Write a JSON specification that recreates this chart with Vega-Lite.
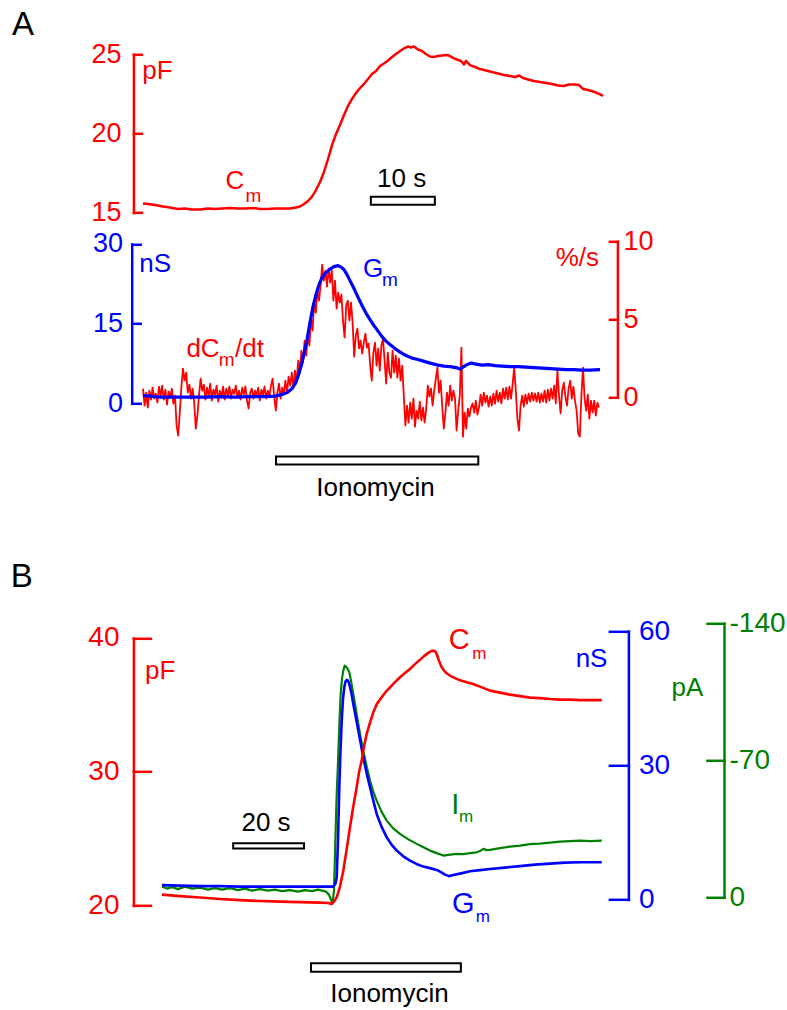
{
  "$schema": "https://vega.github.io/schema/vega-lite/v6.json",
  "description": "Ionomycin-evoked changes in membrane capacitance (Cm), its rate (dCm/dt), conductance (Gm) and current (Im).",
  "autosize": {"type": "none"},
  "padding": {"left": 133.4, "top": 54.3, "right": 653.6, "bottom": 955.7},
  "background": "white",
  "bounds": "flush",
  "spacing": 28,
  "config": {
    "view": {"stroke": null},
    "font": "Liberation Sans",
    "axis": {"grid": false, "labelFont": "Liberation Sans", "title": null, "domainCap": "square", "tickCap": "square", "labelOverlap": false}
  },
  "datasets": {
    "cmA": [{"t":0,"pF":15.58},{"t":0.78,"pF":15.55},{"t":1.88,"pF":15.49},{"t":3.13,"pF":15.39},{"t":4.22,"pF":15.33},{"t":5.47,"pF":15.23},{"t":6.56,"pF":15.27},{"t":7.66,"pF":15.2},{"t":8.91,"pF":15.2},{"t":10.16,"pF":15.27},{"t":11.25,"pF":15.23},{"t":12.34,"pF":15.27},{"t":13.59,"pF":15.3},{"t":14.84,"pF":15.27},{"t":15.94,"pF":15.27},{"t":17.19,"pF":15.3},{"t":18.28,"pF":15.23},{"t":19.53,"pF":15.23},{"t":20.63,"pF":15.27},{"t":21.88,"pF":15.27},{"t":22.97,"pF":15.27},{"t":23.91,"pF":15.33},{"t":24.53,"pF":15.39},{"t":25.16,"pF":15.55},{"t":25.78,"pF":15.74},{"t":26.41,"pF":16.02},{"t":27.03,"pF":16.43},{"t":27.66,"pF":16.94},{"t":28.28,"pF":17.57},{"t":28.91,"pF":18.39},{"t":29.53,"pF":19.27},{"t":30.16,"pF":19.97},{"t":30.78,"pF":20.54},{"t":31.41,"pF":21.17},{"t":32.03,"pF":21.74},{"t":32.66,"pF":22.18},{"t":33.28,"pF":22.56},{"t":33.91,"pF":22.87},{"t":34.53,"pF":23.13},{"t":35.16,"pF":23.44},{"t":35.78,"pF":23.76},{"t":36.41,"pF":23.95},{"t":37.03,"pF":24.26},{"t":37.66,"pF":24.42},{"t":38.28,"pF":24.61},{"t":38.91,"pF":24.83},{"t":39.53,"pF":25.02},{"t":40.16,"pF":25.21},{"t":40.78,"pF":25.37},{"t":41.41,"pF":25.49},{"t":41.88,"pF":25.43},{"t":42.34,"pF":25.49},{"t":42.97,"pF":25.3},{"t":43.59,"pF":25.21},{"t":44.22,"pF":25.02},{"t":44.84,"pF":24.86},{"t":45.47,"pF":24.83},{"t":46.09,"pF":24.89},{"t":46.72,"pF":24.92},{"t":47.34,"pF":24.96},{"t":47.81,"pF":24.92},{"t":48.44,"pF":24.77},{"t":49.06,"pF":24.67},{"t":49.69,"pF":24.58},{"t":50.16,"pF":24.36},{"t":50.47,"pF":24.58},{"t":51.09,"pF":24.32},{"t":51.88,"pF":24.2},{"t":52.66,"pF":24.07},{"t":53.59,"pF":23.98},{"t":54.53,"pF":23.88},{"t":55.47,"pF":23.79},{"t":56.41,"pF":23.69},{"t":57.34,"pF":23.63},{"t":58.13,"pF":23.57},{"t":58.75,"pF":23.66},{"t":59.38,"pF":23.5},{"t":60.16,"pF":23.41},{"t":61.09,"pF":23.31},{"t":62.03,"pF":23.25},{"t":62.97,"pF":23.19},{"t":63.91,"pF":23.13},{"t":64.84,"pF":23.03},{"t":65.78,"pF":23.0},{"t":66.56,"pF":23.09},{"t":67.34,"pF":23.09},{"t":68.13,"pF":23.06},{"t":68.75,"pF":22.81},{"t":69.53,"pF":22.75},{"t":70.31,"pF":22.65},{"t":71.09,"pF":22.53},{"t":71.88,"pF":22.37}],
    "gmA": [{"t":0,"nS":1.45},{"t":1.09,"nS":1.36},{"t":2.66,"nS":1.17},{"t":5.0,"nS":1.17},{"t":7.34,"nS":1.17},{"t":9.69,"nS":1.17},{"t":12.03,"nS":1.26},{"t":14.38,"nS":1.17},{"t":16.72,"nS":1.26},{"t":19.06,"nS":1.26},{"t":20.63,"nS":1.36},{"t":21.72,"nS":1.64},{"t":22.5,"nS":2.01},{"t":23.13,"nS":2.58},{"t":23.75,"nS":3.61},{"t":24.22,"nS":5.03},{"t":24.69,"nS":6.91},{"t":25.16,"nS":9.35},{"t":25.63,"nS":11.99},{"t":26.09,"nS":15.19},{"t":26.56,"nS":18.2},{"t":27.03,"nS":20.46},{"t":27.5,"nS":22.34},{"t":27.97,"nS":23.66},{"t":28.59,"nS":24.6},{"t":29.22,"nS":25.26},{"t":29.84,"nS":25.73},{"t":30.47,"nS":25.92},{"t":30.94,"nS":25.64},{"t":31.41,"nS":25.16},{"t":31.88,"nS":24.22},{"t":32.34,"nS":23.09},{"t":32.97,"nS":21.59},{"t":33.59,"nS":19.99},{"t":34.22,"nS":18.39},{"t":34.84,"nS":16.98},{"t":35.47,"nS":15.75},{"t":36.09,"nS":14.62},{"t":36.72,"nS":13.59},{"t":37.34,"nS":12.55},{"t":37.97,"nS":11.71},{"t":38.59,"nS":11.05},{"t":39.38,"nS":10.3},{"t":40.16,"nS":9.64},{"t":41.09,"nS":8.98},{"t":42.03,"nS":8.51},{"t":42.97,"nS":8.23},{"t":44.06,"nS":7.85},{"t":45.16,"nS":7.47},{"t":46.09,"nS":7.19},{"t":47.03,"nS":7.0},{"t":47.97,"nS":6.91},{"t":48.91,"nS":6.72},{"t":49.53,"nS":6.44},{"t":50.0,"nS":6.81},{"t":50.63,"nS":7.28},{"t":51.25,"nS":7.57},{"t":52.03,"nS":7.38},{"t":52.97,"nS":7.19},{"t":53.91,"nS":7.28},{"t":55.0,"nS":7.1},{"t":56.09,"nS":7.0},{"t":57.34,"nS":6.91},{"t":58.59,"nS":6.91},{"t":59.84,"nS":6.81},{"t":61.09,"nS":6.72},{"t":62.34,"nS":6.63},{"t":63.59,"nS":6.53},{"t":64.84,"nS":6.44},{"t":66.09,"nS":6.34},{"t":67.34,"nS":6.34},{"t":68.59,"nS":6.25},{"t":69.84,"nS":6.25},{"t":71.41,"nS":6.34}],
    "dcdtA": [{"t":0,"r":0.56},{"t":0.25,"r":-0.53},{"t":0.5,"r":0.3},{"t":0.75,"r":-0.66},{"t":1,"r":0.43},{"t":1.25,"r":-0.15},{"t":1.5,"r":0.62},{"t":1.75,"r":-0.08},{"t":2,"r":0.24},{"t":2.25,"r":-0.34},{"t":2.5,"r":0.69},{"t":2.75,"r":0.04},{"t":3,"r":0.75},{"t":3.25,"r":-0.15},{"t":3.5,"r":0.49},{"t":3.75,"r":-0.47},{"t":4,"r":0.37},{"t":4.25,"r":-0.02},{"t":4.5,"r":0.56},{"t":4.75,"r":-0.4},{"t":5,"r":0.11},{"t":5.25,"r":-1.81},{"t":5.5,"r":-2.46},{"t":5.75,"r":-0.98},{"t":6,"r":0.69},{"t":6.25,"r":1.84},{"t":6.5,"r":1.07},{"t":6.75,"r":1.58},{"t":7,"r":0.3},{"t":7.25,"r":0.81},{"t":7.5,"r":-0.08},{"t":7.75,"r":0.56},{"t":8,"r":-0.34},{"t":8.25,"r":-2.01},{"t":8.5,"r":-1.17},{"t":8.75,"r":0.11},{"t":9,"r":1.2},{"t":9.25,"r":0.43},{"t":9.5,"r":0.81},{"t":9.75,"r":-0.15},{"t":10,"r":0.62},{"t":10.25,"r":0.04},{"t":10.5,"r":0.88},{"t":10.75,"r":-0.21},{"t":11,"r":0.49},{"t":11.25,"r":0.17},{"t":11.5,"r":0.75},{"t":11.75,"r":-0.28},{"t":12,"r":0.43},{"t":12.25,"r":-0.02},{"t":12.5,"r":0.69},{"t":12.75,"r":-0.15},{"t":13,"r":0.56},{"t":13.25,"r":0.11},{"t":13.5,"r":0.69},{"t":13.75,"r":-0.08},{"t":14,"r":0.49},{"t":14.25,"r":0.24},{"t":14.5,"r":0.75},{"t":14.75,"r":-0.02},{"t":15,"r":0.43},{"t":15.25,"r":-0.15},{"t":15.5,"r":0.62},{"t":15.75,"r":0.17},{"t":16,"r":0.69},{"t":16.25,"r":-0.21},{"t":16.5,"r":-0.72},{"t":16.75,"r":0.3},{"t":17,"r":0.56},{"t":17.25,"r":-0.08},{"t":17.5,"r":0.43},{"t":17.75,"r":0.11},{"t":18,"r":0.62},{"t":18.25,"r":-0.21},{"t":18.5,"r":0.49},{"t":18.75,"r":0.17},{"t":19,"r":0.69},{"t":19.25,"r":-0.08},{"t":19.5,"r":0.43},{"t":19.75,"r":0.04},{"t":20,"r":0.75},{"t":20.25,"r":1.2},{"t":20.5,"r":0.04},{"t":20.75,"r":-0.85},{"t":21,"r":0.3},{"t":21.25,"r":0.88},{"t":21.5,"r":-0.08},{"t":21.75,"r":0.62},{"t":22,"r":0.17},{"t":22.25,"r":1.07},{"t":22.5,"r":0.3},{"t":22.75,"r":1.33},{"t":23,"r":0.75},{"t":23.25,"r":1.58},{"t":23.5,"r":0.56},{"t":23.75,"r":1.71},{"t":24,"r":0.94},{"t":24.25,"r":2.35},{"t":24.5,"r":1.58},{"t":24.75,"r":2.99},{"t":25,"r":2.22},{"t":25.25,"r":3.63},{"t":25.5,"r":2.67},{"t":25.75,"r":3.96},{"t":26,"r":3.31},{"t":26.25,"r":5.04},{"t":26.5,"r":4.28},{"t":26.75,"r":6.07},{"t":27,"r":5.43},{"t":27.25,"r":6.84},{"t":27.5,"r":6.2},{"t":27.75,"r":7.16},{"t":28,"r":8.51},{"t":28.25,"r":7.48},{"t":28.5,"r":8.12},{"t":28.75,"r":7.1},{"t":29,"r":8.25},{"t":29.25,"r":7.35},{"t":29.5,"r":8.12},{"t":29.75,"r":6.2},{"t":30,"r":7.48},{"t":30.25,"r":5.69},{"t":30.5,"r":6.71},{"t":30.75,"r":6.07},{"t":31,"r":6.58},{"t":31.25,"r":4.92},{"t":31.5,"r":3.83},{"t":31.75,"r":5.88},{"t":32,"r":6.2},{"t":32.25,"r":4.92},{"t":32.5,"r":6.07},{"t":32.75,"r":4.79},{"t":33,"r":2.61},{"t":33.25,"r":3.96},{"t":33.5,"r":4.4},{"t":33.75,"r":3.12},{"t":34,"r":3.63},{"t":34.25,"r":2.8},{"t":34.5,"r":3.51},{"t":34.75,"r":4.08},{"t":35,"r":3.19},{"t":35.25,"r":3.44},{"t":35.5,"r":2.03},{"t":35.75,"r":1.07},{"t":36,"r":2.87},{"t":36.25,"r":3.51},{"t":36.5,"r":2.03},{"t":36.75,"r":3.12},{"t":37,"r":1.71},{"t":37.25,"r":3.31},{"t":37.5,"r":3.76},{"t":37.75,"r":2.35},{"t":38,"r":0.88},{"t":38.25,"r":2.87},{"t":38.5,"r":1.58},{"t":38.75,"r":1.26},{"t":39,"r":2.99},{"t":39.25,"r":1.58},{"t":39.5,"r":2.67},{"t":39.75,"r":1.26},{"t":40,"r":2.48},{"t":40.25,"r":1.07},{"t":40.5,"r":2.03},{"t":40.75,"r":0.11},{"t":41,"r":-1.81},{"t":41.25,"r":-0.53},{"t":41.5,"r":-1.62},{"t":41.75,"r":-0.34},{"t":42,"r":-1.37},{"t":42.25,"r":-0.08},{"t":42.5,"r":-1.88},{"t":42.75,"r":-0.85},{"t":43,"r":-1.37},{"t":43.25,"r":-0.28},{"t":43.5,"r":-1.49},{"t":43.75,"r":-0.66},{"t":44,"r":-1.62},{"t":44.25,"r":-0.72},{"t":44.5,"r":0.75},{"t":44.75,"r":0.04},{"t":45,"r":0.56},{"t":45.25,"r":-0.53},{"t":45.5,"r":0.43},{"t":45.75,"r":1.2},{"t":46,"r":1.9},{"t":46.25,"r":0.3},{"t":46.5,"r":1.07},{"t":46.75,"r":-0.53},{"t":47,"r":-2.01},{"t":47.25,"r":-0.98},{"t":47.5,"r":0.3},{"t":47.75,"r":-0.53},{"t":48,"r":0.75},{"t":48.25,"r":-0.21},{"t":48.5,"r":0.43},{"t":48.75,"r":-0.08},{"t":49,"r":-2.13},{"t":49.25,"r":-0.85},{"t":49.5,"r":0.11},{"t":49.75,"r":3.19},{"t":50,"r":-2.52},{"t":50.25,"r":-0.98},{"t":50.5,"r":-2.01},{"t":50.75,"r":-0.72},{"t":51,"r":-1.24},{"t":51.25,"r":-0.66},{"t":51.5,"r":-0.4},{"t":51.75,"r":-0.98},{"t":52,"r":-0.21},{"t":52.25,"r":-1.11},{"t":52.5,"r":-0.66},{"t":52.75,"r":0.17},{"t":53,"r":-0.53},{"t":53.25,"r":0.3},{"t":53.5,"r":-0.34},{"t":53.75,"r":0.11},{"t":54,"r":-0.6},{"t":54.25,"r":0.04},{"t":54.5,"r":-0.53},{"t":54.75,"r":0.24},{"t":55,"r":-0.4},{"t":55.25,"r":0.43},{"t":55.5,"r":-0.28},{"t":55.75,"r":0.3},{"t":56,"r":-0.4},{"t":56.25,"r":0.56},{"t":56.5,"r":-0.08},{"t":56.75,"r":0.62},{"t":57,"r":-0.15},{"t":57.25,"r":0.69},{"t":57.5,"r":-0.08},{"t":57.75,"r":0.81},{"t":58,"r":1.9},{"t":58.25,"r":0.43},{"t":58.5,"r":-1.37},{"t":58.75,"r":-2.13},{"t":59,"r":-0.53},{"t":59.25,"r":0.11},{"t":59.5,"r":-0.6},{"t":59.75,"r":0.17},{"t":60,"r":-0.4},{"t":60.25,"r":0.24},{"t":60.5,"r":-0.28},{"t":60.75,"r":0.3},{"t":61,"r":-0.21},{"t":61.25,"r":0.24},{"t":61.5,"r":-0.28},{"t":61.75,"r":0.3},{"t":62,"r":-0.34},{"t":62.25,"r":0.24},{"t":62.5,"r":-0.28},{"t":62.75,"r":0.43},{"t":63,"r":-0.34},{"t":63.25,"r":0.49},{"t":63.5,"r":-0.21},{"t":63.75,"r":0.56},{"t":64,"r":-0.08},{"t":64.25,"r":0.75},{"t":64.5,"r":-0.4},{"t":64.75,"r":1.71},{"t":65,"r":0.11},{"t":65.25,"r":-1.04},{"t":65.5,"r":0.43},{"t":65.75,"r":0.94},{"t":66,"r":0.04},{"t":66.25,"r":-0.53},{"t":66.5,"r":0.56},{"t":66.75,"r":1.07},{"t":67,"r":-0.08},{"t":67.25,"r":0.69},{"t":67.5,"r":-0.21},{"t":67.75,"r":-0.85},{"t":68,"r":-2.33},{"t":68.25,"r":-2.52},{"t":68.5,"r":0.11},{"t":68.75,"r":1.9},{"t":69,"r":-0.08},{"t":69.25,"r":-0.85},{"t":69.5,"r":0.17},{"t":69.75,"r":-1.37},{"t":70,"r":-0.21},{"t":70.25,"r":-0.98},{"t":70.5,"r":-0.21},{"t":70.75,"r":-1.17},{"t":71,"r":-0.34},{"t":71.25,"r":-0.66}],
    "cmB": [{"t":0,"pF":20.82},{"t":5.08,"pF":20.71},{"t":10.73,"pF":20.6},{"t":16.38,"pF":20.49},{"t":22.03,"pF":20.41},{"t":27.68,"pF":20.34},{"t":33.32,"pF":20.3},{"t":38.97,"pF":20.26},{"t":44.62,"pF":20.22},{"t":46.88,"pF":20.19},{"t":47.92,"pF":20.13},{"t":48.57,"pF":20.3},{"t":49.34,"pF":20.62},{"t":50.27,"pF":21.42},{"t":51.2,"pF":22.61},{"t":52.1,"pF":24.11},{"t":53.09,"pF":25.85},{"t":54.02,"pF":27.4},{"t":54.98,"pF":28.84},{"t":55.63,"pF":29.94},{"t":56.4,"pF":30.83},{"t":57.05,"pF":31.88},{"t":57.81,"pF":32.83},{"t":58.74,"pF":33.67},{"t":59.67,"pF":34.44},{"t":60.72,"pF":35.09},{"t":62.05,"pF":35.56},{"t":63.26,"pF":35.99},{"t":64.39,"pF":36.31},{"t":65.8,"pF":36.7},{"t":67.21,"pF":37.06},{"t":68.62,"pF":37.37},{"t":70.04,"pF":37.68},{"t":71.45,"pF":38.04},{"t":72.86,"pF":38.36},{"t":73.99,"pF":38.64},{"t":75.2,"pF":38.88},{"t":75.97,"pF":39.01},{"t":76.62,"pF":39.05},{"t":77.1,"pF":39.01},{"t":77.58,"pF":38.8},{"t":78.22,"pF":38.3},{"t":78.99,"pF":37.8},{"t":79.64,"pF":37.56},{"t":80.4,"pF":37.36},{"t":81.62,"pF":37.13},{"t":83.22,"pF":36.94},{"t":84.44,"pF":36.81},{"t":86.05,"pF":36.68},{"t":87.83,"pF":36.55},{"t":89.8,"pF":36.36},{"t":91.22,"pF":36.21},{"t":92.63,"pF":36.06},{"t":95.45,"pF":35.91},{"t":98.28,"pF":35.76},{"t":101.1,"pF":35.65},{"t":103.9,"pF":35.54},{"t":106.7,"pF":35.5},{"t":109.6,"pF":35.43},{"t":112.4,"pF":35.39},{"t":115.2,"pF":35.39},{"t":118.1,"pF":35.35},{"t":120.9,"pF":35.35},{"t":124.2,"pF":35.35}],
    "gmB": [{"t":0,"nS":3.24},{"t":5.08,"nS":3.13},{"t":10.73,"nS":3.02},{"t":16.38,"nS":3.02},{"t":22.03,"nS":2.91},{"t":27.68,"nS":2.91},{"t":33.32,"nS":2.91},{"t":38.97,"nS":2.91},{"t":44.62,"nS":2.91},{"t":48.38,"nS":2.91},{"t":49.0,"nS":3.58},{"t":49.34,"nS":4.99},{"t":49.7,"nS":13.19},{"t":50.07,"nS":25.11},{"t":50.41,"nS":33.32},{"t":50.75,"nS":40.03},{"t":51.12,"nS":44.95},{"t":51.48,"nS":47.47},{"t":51.82,"nS":48.75},{"t":52.16,"nS":49.13},{"t":52.53,"nS":48.97},{"t":52.89,"nS":48.23},{"t":53.46,"nS":46.29},{"t":54.02,"nS":43.76},{"t":54.7,"nS":40.92},{"t":55.44,"nS":37.79},{"t":56.12,"nS":34.88},{"t":56.85,"nS":31.82},{"t":57.75,"nS":28.4},{"t":58.74,"nS":25.11},{"t":59.67,"nS":22.14},{"t":60.63,"nS":19.16},{"t":61.99,"nS":16.32},{"t":63.46,"nS":13.93},{"t":64.82,"nS":12.3},{"t":66.28,"nS":10.96},{"t":68.06,"nS":9.73},{"t":70.04,"nS":8.72},{"t":71.87,"nS":7.98},{"t":73.79,"nS":7.38},{"t":75.68,"nS":7.04},{"t":77.58,"nS":6.64},{"t":78.79,"nS":6.15},{"t":79.92,"nS":5.59},{"t":81.05,"nS":5.25},{"t":82.26,"nS":5.48},{"t":84.16,"nS":5.81},{"t":86.98,"nS":6.33},{"t":89.8,"nS":6.6},{"t":92.63,"nS":6.86},{"t":96.86,"nS":7.16},{"t":101.1,"nS":7.49},{"t":105.3,"nS":7.83},{"t":109.6,"nS":8.05},{"t":113.8,"nS":8.27},{"t":118.1,"nS":8.34},{"t":124.2,"nS":8.34}],
    "imB": [{"t":0,"pA":-5.47},{"t":1.41,"pA":-4.45},{"t":2.82,"pA":-5.21},{"t":4.52,"pA":-4.19},{"t":6.5,"pA":-5.47},{"t":8.47,"pA":-4.45},{"t":10.73,"pA":-4.96},{"t":12.99,"pA":-3.93},{"t":14.97,"pA":-4.7},{"t":16.94,"pA":-3.93},{"t":19.2,"pA":-4.7},{"t":21.46,"pA":-3.68},{"t":23.44,"pA":-4.45},{"t":25.42,"pA":-3.42},{"t":27.68,"pA":-4.19},{"t":29.93,"pA":-3.42},{"t":31.91,"pA":-3.93},{"t":33.89,"pA":-3.17},{"t":36.15,"pA":-3.68},{"t":38.41,"pA":-2.91},{"t":40.38,"pA":-3.68},{"t":42.36,"pA":-3.17},{"t":44.05,"pA":-3.93},{"t":45.18,"pA":-3.42},{"t":46.31,"pA":-2.91},{"t":47.16,"pA":-1.38},{"t":47.73,"pA":1.18},{"t":48.15,"pA":3.22},{"t":48.57,"pA":-3.42},{"t":48.86,"pA":-22.18},{"t":49.28,"pA":-49.41},{"t":49.79,"pA":-73.27},{"t":50.13,"pA":-90.29},{"t":50.47,"pA":-103.93},{"t":50.83,"pA":-111.75},{"t":51.2,"pA":-115.83},{"t":51.6,"pA":-118.39},{"t":51.96,"pA":-117.88},{"t":52.39,"pA":-116.86},{"t":52.89,"pA":-114.97},{"t":53.37,"pA":-110.73},{"t":54.02,"pA":-103.93},{"t":54.73,"pA":-96.42},{"t":55.44,"pA":-88.6},{"t":56.12,"pA":-81.6},{"t":56.85,"pA":-74.96},{"t":57.75,"pA":-67.29},{"t":58.74,"pA":-59.63},{"t":59.67,"pA":-54.01},{"t":60.63,"pA":-49.41},{"t":61.99,"pA":-43.79},{"t":63.46,"pA":-39.19},{"t":65.24,"pA":-35.36},{"t":67.21,"pA":-32.39},{"t":69.47,"pA":-29.74},{"t":71.93,"pA":-27.29},{"t":73.71,"pA":-25.65},{"t":75.68,"pA":-23.86},{"t":77.58,"pA":-22.58},{"t":79.45,"pA":-21.31},{"t":81.34,"pA":-21.82},{"t":83.22,"pA":-22.18},{"t":85.0,"pA":-22.07},{"t":86.98,"pA":-22.58},{"t":88.87,"pA":-22.99},{"t":89.8,"pA":-23.61},{"t":90.74,"pA":-24.73},{"t":91.78,"pA":-24.12},{"t":92.63,"pA":-24.22},{"t":95.45,"pA":-25.14},{"t":98.28,"pA":-25.91},{"t":101.1,"pA":-26.42},{"t":103.9,"pA":-27.18},{"t":106.7,"pA":-27.44},{"t":109.6,"pA":-27.95},{"t":112.4,"pA":-28.46},{"t":115.2,"pA":-28.72},{"t":118.1,"pA":-28.97},{"t":120.9,"pA":-28.72},{"t":124.2,"pA":-28.97}]
  },
  "vconcat": [
    {
      "width": 484,
      "height": 158.4,
      "encoding": {
        "x": {"field": "t", "type": "quantitative", "scale": {"domain": [-1.5, 74.125], "nice": false, "zero": false}, "axis": null},
        "y": {"field": "pF", "type": "quantitative", "scale": {"domain": [15, 25], "nice": false, "zero": false},
              "axis": {"orient": "left", "values": [15, 20, 25], "domainColor": "#ff0000", "domainWidth": 2.5, "tickColor": "#ff0000", "tickWidth": 2.5, "tickSize": -8, "labelPadding": 20.4, "labelColor": "#ff0000", "labelFontSize": 27}}
      },
      "layer": [
        {"data": {"name": "cmA"}, "mark": {"type": "line", "color": "#ff0000", "strokeWidth": 2.5, "strokeJoin": "round"}},
        {"data": {"values": [{"t": 35.6, "t2": 45.6, "pF": 15.5, "pF2": 16.0}]},
         "mark": {"type": "rect", "fill": "white", "stroke": "black", "strokeWidth": 2},
         "encoding": {"x2": {"field": "t2"}, "y2": {"field": "pF2"}}},
        {"data": {"values": [{"label": "10 s", "t": 40.4, "pF": 16.64}]},
         "mark": {"type": "text", "font": "Liberation Sans", "fontSize": 26, "align": "center", "baseline": "alphabetic", "color": "black"},
         "encoding": {"text": {"field": "label"}}},
        {"data": {"values": [{"label": "A", "t": -20.47, "pF": 26.22}]},
         "mark": {"type": "text", "font": "Liberation Sans", "fontSize": 33, "align": "left", "baseline": "alphabetic", "color": "black"},
         "encoding": {"text": {"field": "label"}}},
        {"data": {"values": [{"label": "pF", "t": -0.13, "pF": 23.44}, {"label": "C", "t": 12.88, "pF": 16.48}]},
         "mark": {"type": "text", "font": "Liberation Sans", "fontSize": 26, "align": "left", "baseline": "alphabetic", "color": "#ff0000"},
         "encoding": {"text": {"field": "label"}}},
        {"data": {"values": [{"label": "m", "t": 16.0, "pF": 15.69}]},
         "mark": {"type": "text", "font": "Liberation Sans", "fontSize": 19, "align": "left", "baseline": "alphabetic", "color": "#ff0000"},
         "encoding": {"text": {"field": "label"}}}
      ]
    },
    {
      "width": 484,
      "height": 354,
      "resolve": {"scale": {"y": "independent"}},
      "encoding": {
        "x": {"field": "t", "type": "quantitative", "scale": {"domain": [-1.5, 74.125], "nice": false, "zero": false}, "axis": null}
      },
      "layer": [
        {
          "encoding": {
            "y": {"field": "r", "type": "quantitative", "scale": {"domain": [0, 10], "range": [156, 0], "nice": false, "zero": false},
                  "axis": {"orient": "right", "values": [0, 5, 10], "domainColor": "#ff0000", "domainWidth": 2.5, "tickColor": "#ff0000", "tickWidth": 2.5, "tickSize": -8, "labelPadding": 13.5, "labelColor": "#ff0000", "labelFontSize": 27}}
          },
          "layer": [
            {"data": {"name": "dcdtA"}, "mark": {"type": "line", "color": "#ff0000", "strokeWidth": 1.8, "strokeJoin": "round"}},
            {"data": {"values": [{"label": "%/s", "t": 71.25, "r": 8.4}]},
             "mark": {"type": "text", "font": "Liberation Sans", "fontSize": 26, "align": "right", "baseline": "alphabetic", "color": "#ff0000"},
             "encoding": {"text": {"field": "label"}}}
          ]
        },
        {
          "encoding": {
            "y": {"field": "nS", "type": "quantitative", "scale": {"domain": [0, 30], "range": [162, 2.6], "nice": false, "zero": false},
                  "axis": {"orient": "left", "offset": 1.7, "values": [0, 15, 30], "domainColor": "#0000ff", "domainWidth": 2.5, "tickColor": "#0000ff", "tickWidth": 2.5, "tickSize": -8.5, "labelPadding": 17.7, "labelColor": "#0000ff", "labelFontSize": 27}}
          },
          "layer": [
            {"data": {"name": "gmA"}, "mark": {"type": "line", "color": "#0000ff", "strokeWidth": 3.2, "strokeJoin": "round"}},
            {"data": {"values": [{"label": "nS", "t": -0.59, "nS": 24.66}, {"label": "G", "t": 34.38, "nS": 23.85}]},
             "mark": {"type": "text", "font": "Liberation Sans", "fontSize": 26, "align": "left", "baseline": "alphabetic", "color": "#0000ff"},
             "encoding": {"text": {"field": "label"}}},
            {"data": {"values": [{"label": "m", "t": 37.34, "nS": 22.15}]},
             "mark": {"type": "text", "font": "Liberation Sans", "fontSize": 19, "align": "left", "baseline": "alphabetic", "color": "#0000ff"},
             "encoding": {"text": {"field": "label"}}},
            {"data": {"values": [{"label": "dC", "t": 6.78, "nS": 8.66}, {"label": "/dt", "t": 14.38, "nS": 8.66}]},
             "mark": {"type": "text", "font": "Liberation Sans", "fontSize": 26, "align": "left", "baseline": "alphabetic", "color": "#ff0000"},
             "encoding": {"text": {"field": "label"}}},
            {"data": {"values": [{"label": "m", "t": 11.83, "nS": 7.1}]},
             "mark": {"type": "text", "font": "Liberation Sans", "fontSize": 19, "align": "left", "baseline": "alphabetic", "color": "#ff0000"},
             "encoding": {"text": {"field": "label"}}},
            {"data": {"values": [{"t": 20.78, "t2": 52.39, "nS": -10.03, "nS2": -11.54}]},
             "mark": {"type": "rect", "fill": "white", "stroke": "black", "strokeWidth": 2},
             "encoding": {"x2": {"field": "t2"}, "y2": {"field": "nS2"}}},
            {"data": {"values": [{"label": "Ionomycin", "t": 36.33, "nS": -17.37}]},
             "mark": {"type": "text", "font": "Liberation Sans", "fontSize": 26, "align": "center", "baseline": "alphabetic", "color": "black"},
             "encoding": {"text": {"field": "label"}}}
          ]
        }
      ]
    },
    {
      "width": 495,
      "height": 282.3,
      "resolve": {"scale": {"y": "independent"}},
      "encoding": {
        "x": {"field": "t", "type": "quantitative", "scale": {"domain": [-8.08, 131.72], "nice": false, "zero": false}, "axis": null}
      },
      "layer": [
        {
          "encoding": {
            "y": {"field": "pA", "type": "quantitative", "scale": {"domain": [0, -140], "range": [274, 0], "nice": false, "zero": false},
                  "axis": {"orient": "right", "offset": 95.6, "values": [0, -70, -140], "labelExpr": "toString(datum.value)", "domainColor": "#008000", "domainWidth": 2.5, "tickColor": "#008000", "tickWidth": 2.5, "tickSize": -17, "labelPadding": 22, "labelColor": "#008000", "labelFontSize": 28}}
          },
          "layer": [
            {"data": {"name": "imB"}, "mark": {"type": "line", "color": "#008000", "strokeWidth": 2.2, "strokeJoin": "round"}},
            {"data": {"values": [{"label": "pA", "t": 143.9, "pA": -103.06}]},
             "mark": {"type": "text", "font": "Liberation Sans", "fontSize": 26, "align": "left", "baseline": "alphabetic", "color": "#008000"},
             "encoding": {"text": {"field": "label"}}},
            {"data": {"values": [{"label": "I", "t": 81.7, "pA": -42.61}]},
             "mark": {"type": "text", "font": "Liberation Sans", "fontSize": 29, "align": "left", "baseline": "alphabetic", "color": "#008000"},
             "encoding": {"text": {"field": "label"}}},
            {"data": {"values": [{"label": "m", "t": 83.87, "pA": -38.32}]},
             "mark": {"type": "text", "font": "Liberation Sans", "fontSize": 17, "align": "left", "baseline": "alphabetic", "color": "#008000"},
             "encoding": {"text": {"field": "label"}}}
          ]
        },
        {
          "encoding": {
            "y": {"field": "nS", "type": "quantitative", "scale": {"domain": [0, 60], "range": [276.3, 8], "nice": false, "zero": false},
                  "axis": {"orient": "right", "values": [0, 30, 60], "domainColor": "#0000ff", "domainWidth": 2.5, "tickColor": "#0000ff", "tickWidth": 2.5, "tickSize": -19, "labelPadding": 29, "labelColor": "#0000ff", "labelFontSize": 28}}
          },
          "layer": [
            {"data": {"name": "gmB"}, "mark": {"type": "line", "color": "#0000ff", "strokeWidth": 2.6, "strokeJoin": "round"}},
            {"data": {"values": [{"label": "nS", "t": 125.8, "nS": 51.95}]},
             "mark": {"type": "text", "font": "Liberation Sans", "fontSize": 26, "align": "right", "baseline": "alphabetic", "color": "#0000ff"},
             "encoding": {"text": {"field": "label"}}},
            {"data": {"values": [{"label": "G", "t": 81.9, "nS": -2.91}]},
             "mark": {"type": "text", "font": "Liberation Sans", "fontSize": 29, "align": "left", "baseline": "alphabetic", "color": "#0000ff"},
             "encoding": {"text": {"field": "label"}}},
            {"data": {"values": [{"label": "m", "t": 88.6, "nS": -4.92}]},
             "mark": {"type": "text", "font": "Liberation Sans", "fontSize": 17, "align": "left", "baseline": "alphabetic", "color": "#0000ff"},
             "encoding": {"text": {"field": "label"}}}
          ]
        },
        {
          "encoding": {
            "y": {"field": "pF", "type": "quantitative", "scale": {"domain": [20, 40], "range": [282.3, 14.6], "nice": false, "zero": false},
                  "axis": {"orient": "left", "values": [20, 30, 40], "domainColor": "#ff0000", "domainWidth": 2.5, "tickColor": "#ff0000", "tickWidth": 2.5, "tickSize": -17, "labelPadding": 31.4, "labelColor": "#ff0000", "labelFontSize": 28}}
          },
          "layer": [
            {"data": {"name": "cmB"}, "mark": {"type": "line", "color": "#ff0000", "strokeWidth": 2.6, "strokeJoin": "round"}},
            {"data": {"values": [{"label": "pF", "t": -4.8, "pF": 36.94}]},
             "mark": {"type": "text", "font": "Liberation Sans", "fontSize": 26, "align": "left", "baseline": "alphabetic", "color": "#ff0000"},
             "encoding": {"text": {"field": "label"}}},
            {"data": {"values": [{"label": "C", "t": 80.97, "pF": 39.18}]},
             "mark": {"type": "text", "font": "Liberation Sans", "fontSize": 29, "align": "left", "baseline": "alphabetic", "color": "#ff0000"},
             "encoding": {"text": {"field": "label"}}},
            {"data": {"values": [{"label": "m", "t": 87.63, "pF": 38.43}]},
             "mark": {"type": "text", "font": "Liberation Sans", "fontSize": 17, "align": "left", "baseline": "alphabetic", "color": "#ff0000"},
             "encoding": {"text": {"field": "label"}}},
            {"data": {"values": [{"label": "B", "t": -42.73, "pF": 43.78}]},
             "mark": {"type": "text", "font": "Liberation Sans", "fontSize": 33, "align": "left", "baseline": "alphabetic", "color": "black"},
             "encoding": {"text": {"field": "label"}}},
            {"data": {"values": [{"t": 20.1, "t2": 40.1, "pF": 24.26, "pF2": 24.65}, {"t": 42.08, "t2": 84.4, "pF": 15.05, "pF2": 15.69}]},
             "mark": {"type": "rect", "fill": "white", "stroke": "black", "strokeWidth": 2},
             "encoding": {"x2": {"field": "t2"}, "y2": {"field": "pF2"}}},
            {"data": {"values": [{"label": "20 s", "t": 29.37, "pF": 25.6}, {"label": "Ionomycin", "t": 64.25, "pF": 12.78}]},
             "mark": {"type": "text", "font": "Liberation Sans", "fontSize": 26, "align": "center", "baseline": "alphabetic", "color": "black"},
             "encoding": {"text": {"field": "label"}}}
          ]
        }
      ]
    }
  ]
}
